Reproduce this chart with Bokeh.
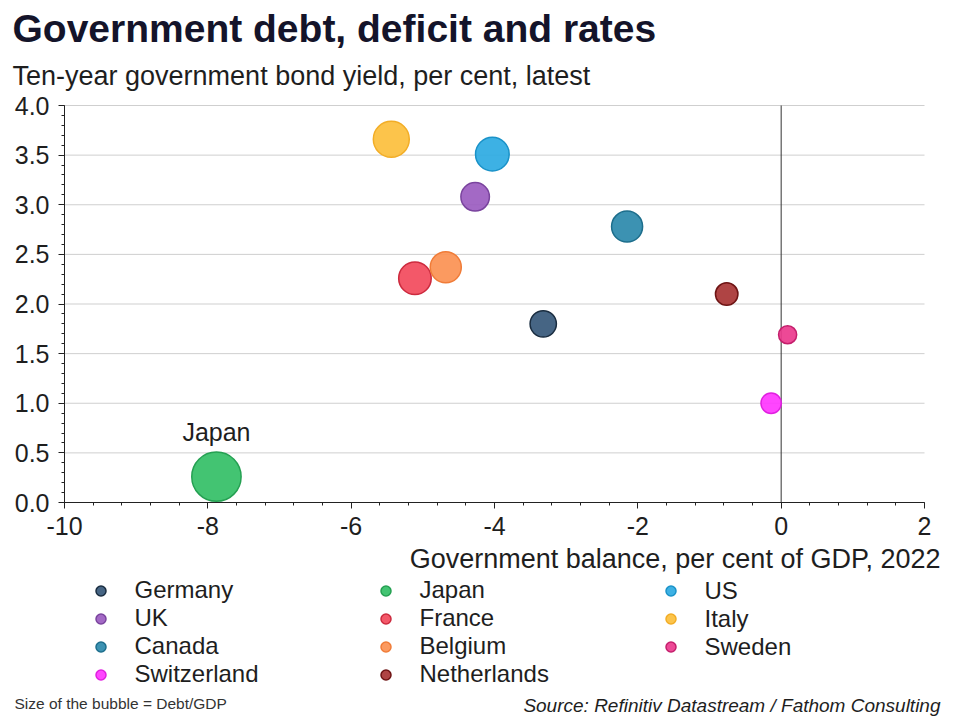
from bokeh.plotting import figure
from bokeh.models import (ColumnDataSource, Range1d, FixedTicker, NumeralTickFormatter,
                          Label, Legend, LegendItem, LinearAxis)
from bokeh.embed import file_html
from bokeh.resources import INLINE
import numpy as np

# ---------------- data ----------------
countries = ["Germany", "UK", "Canada", "Switzerland",
             "Japan", "France", "Belgium", "Netherlands",
             "US", "Italy", "Sweden"]
balance = [-3.32, -4.27, -2.15, -0.14, -7.88, -5.11, -4.68, -0.76, -4.03, -5.44, 0.09]
bond_yield = [1.80, 3.08, 2.78, 1.00, 0.26, 2.26, 2.37, 2.10, 3.51, 3.66, 1.69]
debt_gdp = [74, 87, 103, 44, 260, 113, 103, 54, 121, 138, 35]
fill_colors = ["#36587a", "#9b5cc0", "#2b89ab", "#ff36ff", "#33bf66", "#f24a5c",
               "#fb9152", "#a83434", "#2caae2", "#fcbf3c", "#eb3a8d"]
line_colors = ["#1a2d40", "#7a449e", "#1d6e8c", "#e020e0", "#25a052", "#cc2a3e",
               "#f07c38", "#6e1414", "#1a92c8", "#f2ad26", "#c41f6c"]
legend_cols = [["Germany", "UK", "Canada", "Switzerland"],
               ["Japan", "France", "Belgium", "Netherlands"],
               ["US", "Italy", "Sweden"]]
x_ticks = [-10, -8, -6, -4, -2, 0, 2]
y_ticks = [0.0, 0.5, 1.0, 1.5, 2.0, 2.5, 3.0, 3.5, 4.0]

title_text = "Government debt, deficit and rates"
subtitle_text = "Ten-year government bond yield, per cent, latest"
xlabel_text = "Government balance, per cent of GDP, 2022"
note_text = "Size of the bubble = Debt/GDP"
source_text = "Source: Refinitiv Datastream / Fathom Consulting"

FONT = "Liberation Sans"
TXT = "#1e1e1e"

# ---------------- layout (pixels) ----------------
W, H = 960, 720
PL, PR, PT, PB = 64, 924, 105, 502     # plotting area edges on the canvas
X0, X1 = x_ticks[0], x_ticks[-1]
Y0, Y1 = y_ticks[0], y_ticks[-1]
kx = (PR - PL) / (X1 - X0)
ky = (PB - PT) / (Y1 - Y0)
xr = Range1d(X0 - PL / kx, X1 + (W - PR) / kx)
yr = Range1d(Y0 - (H - PB) / ky, Y1 + PT / ky)

p = figure(width=W, height=H, output_backend="svg", toolbar_location=None,
           x_range=xr, y_range=yr, x_axis_type=None, y_axis_type=None,
           min_border=0, background_fill_color="white", border_fill_color="white")
p.outline_line_color = None
p.xgrid.visible = False
p.ygrid.visible = False

def sy(y_from_top):       # screen y (from bottom) for a canvas y measured from top
    return H - y_from_top

# gridlines at the y ticks
p.segment(x0=[X0] * len(y_ticks), x1=[X1] * len(y_ticks), y0=y_ticks, y1=y_ticks,
          line_color="#cfcfcf", line_width=1)
# zero line
p.segment(x0=[0], x1=[0], y0=[Y0], y1=[Y1], line_color="#333333", line_width=1)

# axes fixed at the plot edges
xaxis = LinearAxis(fixed_location=Y0, bounds=(X0, X1))
yaxis = LinearAxis(fixed_location=X0, bounds=(Y0, Y1))
for ax in (xaxis, yaxis):
    ax.axis_line_color = "#222222"
    ax.axis_line_width = 1
    ax.major_tick_line_color = "#222222"
    ax.minor_tick_line_color = "#222222"
    ax.major_tick_in = 0
    ax.major_tick_out = 6
    ax.minor_tick_in = 0
    ax.minor_tick_out = 3
    ax.major_label_text_font = FONT
    ax.major_label_text_font_size = "25px"
    ax.major_label_text_color = TXT
xaxis.ticker = FixedTicker(ticks=x_ticks,
                           minor_ticks=list(np.round(np.arange(X0, X1 + 0.01, 0.4), 2)))
yaxis.ticker = FixedTicker(ticks=y_ticks,
                           minor_ticks=list(np.round(np.arange(Y0, Y1 + 0.01, 0.1), 2)))
xaxis.formatter = NumeralTickFormatter(format="0")
yaxis.formatter = NumeralTickFormatter(format="0.0")
xaxis.major_label_standoff = 8
yaxis.major_label_standoff = 9
p.add_layout(xaxis, "below")
p.add_layout(yaxis, "left")

# bubbles (area proportional to debt/GDP)
renderers = {}
for i, c in enumerate(countries):
    src = ColumnDataSource(dict(x=[balance[i]], y=[bond_yield[i]],
                                size=[3.06 * np.sqrt(debt_gdp[i])]))
    r = p.scatter("x", "y", size="size", source=src, marker="circle",
                  fill_color=fill_colors[i], fill_alpha=0.92,
                  line_color=line_colors[i], line_width=1.5)
    renderers[c] = r

# Japan label
ji = countries.index("Japan")
p.add_layout(Label(x=balance[ji], y=bond_yield[ji], y_offset=45, text="Japan",
                   text_align="center", text_baseline="middle",
                   text_font=FONT, text_font_size="25px", text_color=TXT))

# legends (three columns)
col_x = [100, 385, 670]          # dot centres
row_top = 578
pitch = 27.5
for k, col in enumerate(legend_cols):
    items = [LegendItem(label=c, renderers=[renderers[c]]) for c in col]
    bottom = row_top + pitch * len(col)
    leg = Legend(items=items, location=(col_x[k] - 12.5, sy(bottom)),
                 orientation="vertical", glyph_width=25, glyph_height=25,
                 label_height=25, label_standoff=22, spacing=0, padding=0,
                 margin=0, border_line_color=None, background_fill_alpha=0,
                 label_text_font=FONT, label_text_font_size="24px",
                 label_text_color=TXT)
    p.add_layout(leg)

# texts
p.add_layout(Label(x=12, y=sy(28), x_units="screen", y_units="screen",
                   text=title_text, text_font=FONT, text_font_size="39px",
                   text_font_style="bold", text_color="#14142a",
                   text_baseline="alphabetic"))
p.add_layout(Label(x=12, y=sy(75), x_units="screen", y_units="screen",
                   text=subtitle_text, text_font=FONT, text_font_size="27px",
                   text_color=TXT, text_baseline="alphabetic"))
p.add_layout(Label(x=940, y=sy(558), x_units="screen", y_units="screen",
                   text=xlabel_text, text_font=FONT, text_font_size="27px",
                   text_color=TXT, text_align="right", text_baseline="alphabetic"))
p.add_layout(Label(x=14, y=sy(703), x_units="screen", y_units="screen",
                   text=note_text, text_font=FONT, text_font_size="15.5px",
                   text_color="#333333", text_baseline="alphabetic"))
p.add_layout(Label(x=940, y=sy(705), x_units="screen", y_units="screen",
                   text=source_text, text_font=FONT, text_font_size="19px",
                   text_font_style="italic", text_color=TXT,
                   text_align="right", text_baseline="alphabetic"))

open("out.html", "w").write(file_html(p, INLINE))
